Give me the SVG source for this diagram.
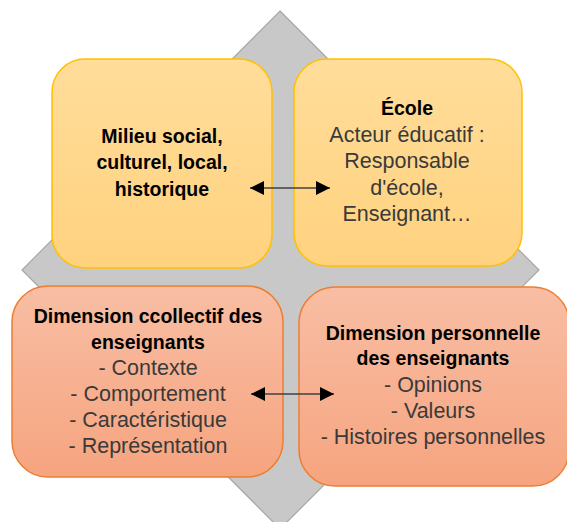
<svg xmlns="http://www.w3.org/2000/svg" width="567" height="522" viewBox="0 0 567 522">
<defs>
<linearGradient id="gY" x1="0" y1="0" x2="0" y2="1"><stop offset="0" stop-color="#FFDD9A"/><stop offset="1" stop-color="#FFD27F"/></linearGradient>
<linearGradient id="gO" x1="0" y1="0" x2="0" y2="1"><stop offset="0" stop-color="#F8BEA4"/><stop offset="1" stop-color="#F6A47F"/></linearGradient>
<marker id="ah" viewBox="0 0 10 10" refX="10" refY="5" markerWidth="15" markerHeight="14" markerUnits="userSpaceOnUse" orient="auto-start-reverse"><path d="M0,0 L10,5 L0,10 Z" fill="#000"/></marker>
<style>
.y{fill:url(#gY);stroke:#FFC000;stroke-width:1.5}
.o{fill:url(#gO);stroke:#ED7D31;stroke-width:1.5}
text{font-family:"Liberation Sans",Arial,sans-serif;text-anchor:middle}
.t{font-size:19.5px;font-weight:bold;fill:#000}
.r{font-size:21.5px;fill:#3A3A3A}
.c{stroke:#404040;stroke-width:1.6;fill:none;marker-start:url(#ah);marker-end:url(#ah)}
</style>
</defs>
<polygon id="diamond" points="280,11 539,270 280,529 22,270" fill="#C8C8C8" stroke="#A6A6A6" stroke-width="1.2"/>
<g id="n1"><rect class="y" x="52" y="59" width="220" height="209" rx="33"/>
<text class="t" x="162" y="143">Milieu social,</text>
<text class="t" x="162" y="169">culturel, local,</text>
<text class="t" x="162" y="196">historique</text></g>
<g id="n2"><rect class="y" x="294" y="59" width="228" height="207" rx="33"/>
<text class="t" x="407" y="115">École</text>
<text class="r" x="407" y="142">Acteur éducatif :</text>
<text class="r" x="407" y="168">Responsable</text>
<text class="r" x="407" y="195">d'école,</text>
<text class="r" x="407" y="221">Enseignant…</text></g>
<g id="n3"><rect class="o" x="12" y="286" width="271" height="191" rx="36"/>
<text class="t" x="148" y="323">Dimension ccollectif des</text>
<text class="t" x="148" y="349">enseignants</text>
<text class="r" x="148" y="375">- Contexte</text>
<text class="r" x="148" y="401">- Comportement</text>
<text class="r" x="148" y="427">- Caractéristique</text>
<text class="r" x="148" y="453">- Représentation</text></g>
<g id="n4"><rect class="o" x="299" y="287" width="270" height="199" rx="36"/>
<text class="t" x="433" y="340">Dimension personnelle</text>
<text class="t" x="433" y="365">des enseignants</text>
<text class="r" x="433" y="392">- Opinions</text>
<text class="r" x="433" y="418">- Valeurs</text>
<text class="r" x="433" y="444">- Histoires personnelles</text></g>
<g id="connectors">
<line class="c" x1="250" y1="188" x2="330" y2="188"/>
<line class="c" x1="251" y1="394" x2="334" y2="394"/>
</g>
</svg>
